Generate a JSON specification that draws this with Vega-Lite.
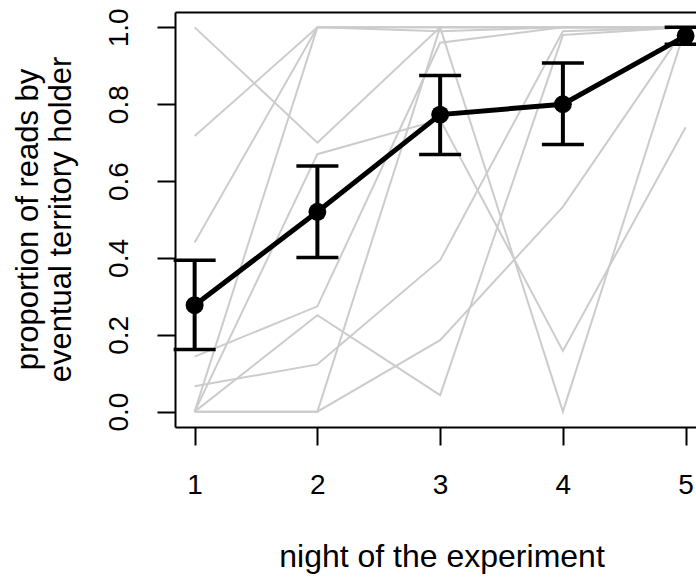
{
  "$schema": "https://vega.github.io/schema/vega-lite/v6.json",
  "autosize": "none",
  "width": 521,
  "height": 415,
  "padding": {"left": 175, "top": 12, "right": 0, "bottom": 150},
  "background": "white",
  "config": {
    "view": {"stroke": null},
    "font": "Liberation Sans",
    "axis": {"grid": false, "domainColor": "black", "domainWidth": 2, "tickColor": "black", "tickWidth": 2, "labelColor": "black", "titleColor": "black", "titleFontWeight": "normal"}
  },
  "datasets": {
    "birds": [
      {"bird": "A", "night": 1, "prop": 1.0}, {"bird": "A", "night": 2, "prop": 0.70}, {"bird": "A", "night": 3, "prop": 1.0}, {"bird": "A", "night": 4, "prop": 1.0}, {"bird": "A", "night": 5, "prop": 1.0},
      {"bird": "B", "night": 1, "prop": 0.717}, {"bird": "B", "night": 2, "prop": 1.0}, {"bird": "B", "night": 3, "prop": 1.0}, {"bird": "B", "night": 4, "prop": 1.0}, {"bird": "B", "night": 5, "prop": 1.0},
      {"bird": "C", "night": 1, "prop": 0.44}, {"bird": "C", "night": 2, "prop": 1.0}, {"bird": "C", "night": 3, "prop": 0.99}, {"bird": "C", "night": 4, "prop": 1.0}, {"bird": "C", "night": 5, "prop": 1.0},
      {"bird": "D", "night": 1, "prop": 0.143}, {"bird": "D", "night": 2, "prop": 0.274}, {"bird": "D", "night": 3, "prop": 0.96}, {"bird": "D", "night": 4, "prop": 1.0}, {"bird": "D", "night": 5, "prop": 1.0},
      {"bird": "E", "night": 1, "prop": 0.066}, {"bird": "E", "night": 2, "prop": 0.123}, {"bird": "E", "night": 3, "prop": 0.394}, {"bird": "E", "night": 4, "prop": 0.99}, {"bird": "E", "night": 5, "prop": 1.0},
      {"bird": "F", "night": 1, "prop": 0.0}, {"bird": "F", "night": 2, "prop": 0.0}, {"bird": "F", "night": 3, "prop": 0.186}, {"bird": "F", "night": 4, "prop": 0.533}, {"bird": "F", "night": 5, "prop": 1.0},
      {"bird": "G", "night": 1, "prop": 0.0}, {"bird": "G", "night": 2, "prop": 0.251}, {"bird": "G", "night": 3, "prop": 0.043}, {"bird": "G", "night": 4, "prop": 0.98}, {"bird": "G", "night": 5, "prop": 1.0},
      {"bird": "H", "night": 1, "prop": 0.0}, {"bird": "H", "night": 2, "prop": 1.0}, {"bird": "H", "night": 3, "prop": 1.0}, {"bird": "H", "night": 4, "prop": 0.0}, {"bird": "H", "night": 5, "prop": 1.0},
      {"bird": "I", "night": 1, "prop": 0.0}, {"bird": "I", "night": 2, "prop": 0.67}, {"bird": "I", "night": 3, "prop": 0.76}, {"bird": "I", "night": 4, "prop": 0.158}, {"bird": "I", "night": 5, "prop": 0.74},
      {"bird": "K", "night": 1, "prop": 0.0}, {"bird": "K", "night": 2, "prop": 0.0}, {"bird": "K", "night": 3, "prop": 1.0}, {"bird": "K", "night": 4, "prop": 1.0}, {"bird": "K", "night": 5, "prop": 1.0}
    ],
    "summary": [
      {"night": 1, "mean": 0.277, "lo": 0.162, "hi": 0.394},
      {"night": 2, "mean": 0.520, "lo": 0.401, "hi": 0.639},
      {"night": 3, "mean": 0.773, "lo": 0.669, "hi": 0.875},
      {"night": 4, "mean": 0.800, "lo": 0.695, "hi": 0.907},
      {"night": 5, "mean": 0.978, "lo": 0.956, "hi": 1.0}
    ]
  },
  "layer": [
    {
      "data": {"name": "birds"},
      "mark": {"type": "line", "color": "#cccccc", "strokeWidth": 2},
      "encoding": {
        "x": {"field": "night", "type": "quantitative", "scale": {"domain": [0.84, 5.0844], "nice": false, "zero": false},
              "axis": {"orient": "top", "labels": false, "ticks": false, "title": null}},
        "y": {"field": "prop", "type": "quantitative", "scale": {"domain": [-0.04, 1.04], "nice": false, "zero": false},
              "axis": {"values": [0, 0.2, 0.4, 0.6, 0.8, 1.0], "format": ".1f", "tickSize": 18, "labelAngle": -90, "labelAlign": "center", "labelBaseline": "alphabetic", "labelPadding": 30, "labelFontSize": 28,
                       "title": ["proportion of reads by", "eventual territory holder"], "titleFontSize": 31, "titleLineHeight": 33, "titleAngle": -90, "titleAlign": "center", "titleBaseline": "alphabetic", "titleX": -138, "titleY": 207}},
        "detail": {"field": "bird"}
      }
    },
    {
      "data": {"name": "summary"},
      "layer": [
        {"mark": {"type": "rule", "color": "black", "strokeWidth": 4},
         "encoding": {"y": {"field": "lo", "type": "quantitative"}, "y2": {"field": "hi"}}},
        {"mark": {"type": "tick", "orient": "horizontal", "color": "black", "size": 42, "thickness": 3.5, "opacity": 1},
         "encoding": {"y": {"field": "lo", "type": "quantitative"}}},
        {"mark": {"type": "tick", "orient": "horizontal", "color": "black", "size": 42, "thickness": 3.5, "opacity": 1},
         "encoding": {"y": {"field": "hi", "type": "quantitative"}}},
        {"mark": {"type": "line", "color": "black", "strokeWidth": 5},
         "encoding": {"y": {"field": "mean", "type": "quantitative"}}},
        {"mark": {"type": "circle", "color": "black", "size": 320, "opacity": 1},
         "encoding": {"y": {"field": "mean", "type": "quantitative"}}}
      ],
      "encoding": {
        "x": {"field": "night", "type": "quantitative",
              "axis": {"orient": "bottom", "values": [1, 2, 3, 4, 5], "format": "d", "tickSize": 18, "labelFontSize": 28, "labelBaseline": "alphabetic", "labelPadding": 48,
                       "title": "night of the experiment", "titleFontSize": 32, "titleAlign": "center", "titleBaseline": "alphabetic", "titleX": 266.5, "titleY": 139.6}}
      }
    }
  ],
  "resolve": {"axis": {"x": "independent"}}
}
